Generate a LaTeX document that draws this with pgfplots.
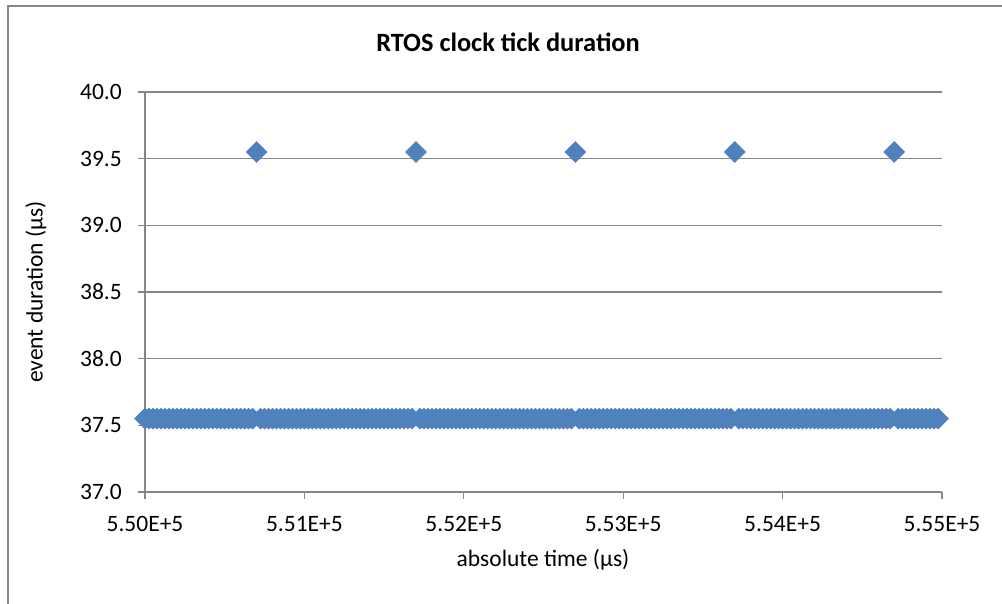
\documentclass[border=0pt]{standalone}
\usepackage{pgfplots}
\pgfplotsset{compat=1.18}
\usepackage{fontspec}
\setmainfont{Carlito}
\definecolor{xlblue}{HTML}{4F81BD}
\definecolor{xlgray}{HTML}{868686}
\begin{document}
\begin{tikzpicture}[x=1pt,y=1pt]
\useasboundingbox (0,0) rectangle (1002,604);
\draw[xlgray, line width=2pt] (8,0) -- (8,598) -- (1002,598);
\begin{axis}[
  at={(145pt,112pt)}, anchor=south west,
  scale only axis, width=797pt, height=400pt,
  xmin=550000, xmax=555000, ymin=37, ymax=40,
  clip=false,
  axis lines*=left,
  axis line style={xlgray, line width=1.3pt},
  tick align=outside,
  major tick length=7pt,
  tick style={xlgray, line width=1.3pt},
  xtick={550000,551000,552000,553000,554000,555000},
  xticklabels={5.50E+5,5.51E+5,5.52E+5,5.53E+5,5.54E+5,5.55E+5},
  ytick={37,37.5,38,38.5,39,39.5,40},
  yticklabels={37.0,37.5,38.0,38.5,39.0,39.5,40.0},
  scaled x ticks=false,
  /pgf/number format/assume math mode=true,
  ymajorgrids,
  major grid style={xlgray, line width=1.3pt},
  every tick label/.append style={font=\fontsize{23.5}{28}\selectfont, text=black, inner sep=0pt},
  xticklabel style={anchor=north, yshift=-17pt},
  yticklabel style={anchor=east, xshift=-16pt},
  title={RTOS clock tick duration},
  title style={font=\fontsize{26.4}{30}\selectfont\bfseries, at={(axis description cs:0.4555,1.1225)}, anchor=center, inner sep=0pt, yshift=-5pt},
  xlabel={absolute time (µs)},
  xlabel style={font=\fontsize{23.5}{28}\selectfont, at={(axis description cs:0.4994,-0.17)}, anchor=center, inner sep=0pt},
  ylabel={event duration (µs)},
  ylabel style={font=\fontsize{23.5}{28}\selectfont, at={(axis description cs:-0.1368,0.5)}, anchor=center, inner sep=0pt},
]
\addplot[only marks, mark=square*, mark size=7.4pt, mark options={rotate=45, fill=xlblue, draw=xlblue, line width=0.5pt}]
table[row sep=\\] {
x y\\
550000 37.55\\550025 37.55\\550050 37.55\\550075 37.55\\550100 37.55\\550125 37.55\\550150 37.55\\550175 37.55\\
550200 37.55\\550225 37.55\\550250 37.55\\550275 37.55\\550300 37.55\\550325 37.55\\550350 37.55\\550375 37.55\\
550400 37.55\\550425 37.55\\550450 37.55\\550475 37.55\\550500 37.55\\550525 37.55\\550550 37.55\\550575 37.55\\
550600 37.55\\550625 37.55\\550650 37.55\\550675 37.55\\550700 39.55\\550725 37.55\\550750 37.55\\550775 37.55\\
550800 37.55\\550825 37.55\\550850 37.55\\550875 37.55\\550900 37.55\\550925 37.55\\550950 37.55\\550975 37.55\\
551000 37.55\\551025 37.55\\551050 37.55\\551075 37.55\\551100 37.55\\551125 37.55\\551150 37.55\\551175 37.55\\
551200 37.55\\551225 37.55\\551250 37.55\\551275 37.55\\551300 37.55\\551325 37.55\\551350 37.55\\551375 37.55\\
551400 37.55\\551425 37.55\\551450 37.55\\551475 37.55\\551500 37.55\\551525 37.55\\551550 37.55\\551575 37.55\\
551600 37.55\\551625 37.55\\551650 37.55\\551675 37.55\\551700 39.55\\551725 37.55\\551750 37.55\\551775 37.55\\
551800 37.55\\551825 37.55\\551850 37.55\\551875 37.55\\551900 37.55\\551925 37.55\\551950 37.55\\551975 37.55\\
552000 37.55\\552025 37.55\\552050 37.55\\552075 37.55\\552100 37.55\\552125 37.55\\552150 37.55\\552175 37.55\\
552200 37.55\\552225 37.55\\552250 37.55\\552275 37.55\\552300 37.55\\552325 37.55\\552350 37.55\\552375 37.55\\
552400 37.55\\552425 37.55\\552450 37.55\\552475 37.55\\552500 37.55\\552525 37.55\\552550 37.55\\552575 37.55\\
552600 37.55\\552625 37.55\\552650 37.55\\552675 37.55\\552700 39.55\\552725 37.55\\552750 37.55\\552775 37.55\\
552800 37.55\\552825 37.55\\552850 37.55\\552875 37.55\\552900 37.55\\552925 37.55\\552950 37.55\\552975 37.55\\
553000 37.55\\553025 37.55\\553050 37.55\\553075 37.55\\553100 37.55\\553125 37.55\\553150 37.55\\553175 37.55\\
553200 37.55\\553225 37.55\\553250 37.55\\553275 37.55\\553300 37.55\\553325 37.55\\553350 37.55\\553375 37.55\\
553400 37.55\\553425 37.55\\553450 37.55\\553475 37.55\\553500 37.55\\553525 37.55\\553550 37.55\\553575 37.55\\
553600 37.55\\553625 37.55\\553650 37.55\\553675 37.55\\553700 39.55\\553725 37.55\\553750 37.55\\553775 37.55\\
553800 37.55\\553825 37.55\\553850 37.55\\553875 37.55\\553900 37.55\\553925 37.55\\553950 37.55\\553975 37.55\\
554000 37.55\\554025 37.55\\554050 37.55\\554075 37.55\\554100 37.55\\554125 37.55\\554150 37.55\\554175 37.55\\
554200 37.55\\554225 37.55\\554250 37.55\\554275 37.55\\554300 37.55\\554325 37.55\\554350 37.55\\554375 37.55\\
554400 37.55\\554425 37.55\\554450 37.55\\554475 37.55\\554500 37.55\\554525 37.55\\554550 37.55\\554575 37.55\\
554600 37.55\\554625 37.55\\554650 37.55\\554675 37.55\\554700 39.55\\554725 37.55\\554750 37.55\\554775 37.55\\
554800 37.55\\554825 37.55\\554850 37.55\\554875 37.55\\554900 37.55\\554925 37.55\\554950 37.55\\554975 37.55\\
};
\end{axis}
\end{tikzpicture}
\end{document}
